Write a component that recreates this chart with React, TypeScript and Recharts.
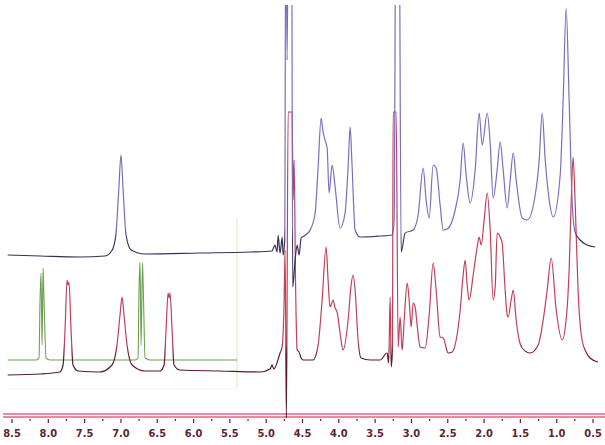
import { Line, LineChart, ReferenceLine, XAxis, YAxis } from "recharts";

// [ppm, intensity] (intensity in arbitrary units above the axis)
const upperTrace: [number, number][] = [
  [8.56, 160], [8.11, 159], [7.56, 158], [7.22, 159], [7.12, 165], [7.07, 180], [7.03, 225],
  [7.0, 260], [6.97, 225], [6.93, 180], [6.86, 165], [6.67, 161], [5.91, 162], [5.22, 163],
  [4.92, 164], [4.88, 170], [4.85, 163], [4.836, 180], [4.809, 162], [4.78, 178], [4.767, 160],
  [4.745, 175], [4.73, 520], [4.712, 355], [4.695, 520], [4.65, 520], [4.635, 128], [4.602, 155],
  [4.574, 170], [4.547, 160], [4.519, 177], [4.478, 179], [4.395, 185], [4.326, 202], [4.285, 248],
  [4.244, 297], [4.217, 283], [4.19, 275], [4.161, 267], [4.134, 222], [4.092, 250], [4.051, 228],
  [3.983, 187], [3.914, 202], [3.872, 248], [3.844, 288], [3.817, 248], [3.776, 185], [3.707, 178],
  [3.431, 179], [3.266, 180], [3.238, 195], [3.215, 520], [3.17, 520], [3.142, 163], [3.087, 182],
  [2.977, 185], [2.908, 200], [2.839, 247], [2.798, 215], [2.756, 197], [2.701, 250], [2.66, 247],
  [2.605, 210], [2.563, 185], [2.508, 186], [2.398, 205], [2.329, 235], [2.288, 272], [2.247, 240],
  [2.192, 212], [2.123, 245], [2.068, 302], [2.026, 270], [1.957, 302], [1.916, 272], [1.875, 217],
  [1.82, 245], [1.778, 273], [1.737, 245], [1.682, 207], [1.64, 235], [1.599, 262], [1.558, 235],
  [1.475, 197], [1.406, 195], [1.296, 220], [1.241, 255], [1.2, 302], [1.158, 255], [1.103, 215],
  [1.048, 198], [0.952, 240], [0.911, 315], [0.87, 407], [0.829, 315], [0.788, 215], [0.747, 183],
  [0.678, 175], [0.581, 170], [0.471, 168],
];

const lowerTrace: [number, number][] = [
  [8.56, 40], [8.11, 41], [7.84, 43], [7.797, 50], [7.77, 85], [7.742, 135], [7.729, 130],
  [7.715, 133], [7.687, 85], [7.66, 50], [7.59, 44], [7.29, 43], [7.123, 50], [7.054, 70],
  [7.013, 100], [6.985, 118], [6.958, 100], [6.916, 70], [6.847, 50], [6.67, 44], [6.461, 44],
  [6.406, 50], [6.379, 85], [6.351, 122], [6.337, 117], [6.324, 122], [6.296, 85], [6.269, 50],
  [6.186, 45], [5.635, 44], [5.084, 43], [4.946, 46], [4.919, 50], [4.895, 46], [4.809, 62],
  [4.781, 68], [4.753, 115], [4.74, 165], [4.722, -3], [4.698, 303], [4.643, 303], [4.63, 215],
  [4.616, 255], [4.595, 128], [4.574, 65], [4.547, 63], [4.519, 57], [4.492, 55], [4.354, 55],
  [4.285, 70], [4.23, 115], [4.175, 168], [4.148, 135], [4.121, 108], [4.079, 115], [4.051, 107],
  [4.024, 103], [3.983, 82], [3.941, 65], [3.872, 95], [3.831, 130], [3.803, 140], [3.776, 125],
  [3.735, 75], [3.693, 57], [3.569, 55], [3.431, 55], [3.335, 62], [3.314, 52], [3.293, 118],
  [3.279, 48], [3.262, 65], [3.252, 303], [3.211, 303], [3.183, 68], [3.156, 98], [3.128, 65],
  [3.1, 95], [3.059, 132], [3.032, 115], [3.004, 88], [2.977, 112], [2.949, 108], [2.922, 90],
  [2.88, 68], [2.811, 67], [2.756, 100], [2.701, 152], [2.66, 125], [2.605, 78], [2.563, 77],
  [2.494, 62], [2.439, 63], [2.384, 75], [2.329, 105], [2.288, 140], [2.26, 155], [2.233, 130],
  [2.205, 115], [2.15, 140], [2.095, 168], [2.068, 178], [2.04, 170], [1.999, 195], [1.957, 222],
  [1.916, 185], [1.875, 115], [1.847, 128], [1.82, 182], [1.778, 178], [1.751, 172], [1.71, 125],
  [1.682, 100], [1.668, 98], [1.627, 115], [1.599, 125], [1.558, 95], [1.517, 75], [1.475, 67],
  [1.365, 62], [1.255, 70], [1.186, 95], [1.131, 125], [1.076, 157], [1.007, 105], [0.925, 75],
  [0.87, 95], [0.829, 145], [0.8, 215], [0.774, 258], [0.747, 215], [0.706, 125], [0.651, 75],
  [0.596, 63], [0.541, 57], [0.431, 53],
];

const referenceTrace: [number, number][] = [
  [8.56, 55], [8.169, 55], [8.128, 57], [8.114, 115], [8.1, 142], [8.086, 70], [8.072, 147],
  [8.059, 115], [8.031, 57], [7.977, 55], [6.806, 55], [6.765, 57], [6.751, 125], [6.737, 153],
  [6.723, 70], [6.703, 152], [6.689, 115], [6.668, 57], [6.599, 55], [5.401, 55],
];

const ppmTicks = [
  8.5, 8.25, 8.0, 7.75, 7.5, 7.25, 7.0, 6.75, 6.5, 6.25, 6.0, 5.75, 5.5, 5.25, 5.0, 4.75, 4.5,
  4.25, 4.0, 3.75, 3.5, 3.25, 3.0, 2.75, 2.5, 2.25, 2.0, 1.75, 1.5, 1.25, 1.0, 0.75, 0.5,
];

const toRows = (t: [number, number][]) => t.map(([ppm, v]) => ({ ppm, v }));

function PpmTick({ x, y, payload }: any) {
  const v = payload.value as number;
  const major = Math.abs(v * 2 - Math.round(v * 2)) < 1e-6;
  return (
    <g>
      <line x1={x} x2={x} y1={y - 1} y2={y + (major ? 3 : 1)} stroke="#5a2030" strokeWidth={1.2} />
      {major && (
        <text
          x={x}
          y={y + 17}
          textAnchor="middle"
          fontFamily="DejaVu Sans Condensed, DejaVu Sans"
          fontWeight="bold"
          fontSize={11}
          fill="#5e2434"
        >
          {v.toFixed(1)}
        </text>
      )}
    </g>
  );
}

export default function App() {
  return (
    <div style={{ position: "absolute", left: 0, top: 0, width: 605, height: 445, background: "#fff" }}>
      <LineChart width={605} height={445} margin={{ top: 5, right: 0, bottom: 0, left: 3 }}>
        <defs>
          <linearGradient id="upperInk" gradientUnits="userSpaceOnUse" x1="0" y1="0" x2="0" y2="445">
            <stop offset="0.51" stopColor="#7c6cbc" />
            <stop offset="0.54" stopColor="#3a3058" />
            <stop offset="1" stopColor="#2a2240" />
          </linearGradient>
          <linearGradient id="lowerInk" gradientUnits="userSpaceOnUse" x1="0" y1="0" x2="0" y2="445">
            <stop offset="0.77" stopColor="#c04058" />
            <stop offset="0.8" stopColor="#5e1a2c" />
            <stop offset="1" stopColor="#4a1422" />
          </linearGradient>
        </defs>
        <XAxis
          type="number"
          dataKey="ppm"
          domain={[0.335, 8.624]}
          reversed
          allowDataOverflow
          ticks={ppmTicks}
          interval={0}
          tick={<PpmTick />}
          tickSize={0}
          tickMargin={0}
          axisLine={false}
          tickLine={false}
          height={25}
        />
        <YAxis hide domain={[-5, 410]} allowDataOverflow />
        <ReferenceLine y={1} stroke="#e0647e" strokeWidth={1.3} />
        <ReferenceLine y={-2} stroke="#e0647e" strokeWidth={1.3} />
        <ReferenceLine
          segment={[{ x: 5.401, y: 197 }, { x: 5.401, y: 27 }]}
          stroke="#d6ebc8"
          strokeWidth={1}
        />
        <ReferenceLine
          segment={[{ x: 8.56, y: 26 }, { x: 5.401, y: 26 }]}
          stroke="#eef6e8"
          strokeWidth={1}
        />
        <Line
          data={toRows(referenceTrace)}
          dataKey="v"
          type="monotone"
          stroke="#6aa050"
          strokeWidth={1.1}
          dot={false}
          isAnimationActive={false}
        />
        <Line
          data={toRows(lowerTrace)}
          dataKey="v"
          type="monotone"
          stroke="url(#lowerInk)"
          strokeWidth={1.2}
          dot={false}
          isAnimationActive={false}
        />
        <Line
          data={toRows(upperTrace)}
          dataKey="v"
          type="monotone"
          stroke="url(#upperInk)"
          strokeWidth={1.2}
          dot={false}
          isAnimationActive={false}
        />
      </LineChart>
    </div>
  );
}
